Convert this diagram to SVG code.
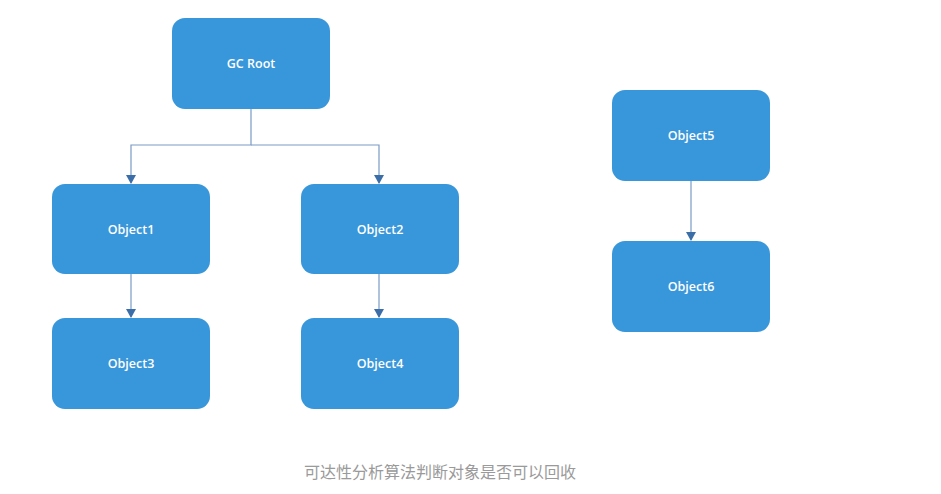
<svg xmlns="http://www.w3.org/2000/svg" width="941" height="494" viewBox="0 0 941 494">
<style>
.box{fill:#3896da;}
.lbl{font-family:"Open Sans","Noto Sans",sans-serif;font-size:12.5px;font-weight:600;fill:#ffffff;text-anchor:middle;dominant-baseline:central;}
.conn{stroke:#7b9bc4;stroke-width:1.2;fill:none;}
.cap{font-family:"Noto Sans CJK SC","Noto Sans",sans-serif;font-size:16px;fill:#9a9a9a;text-anchor:middle;}
</style>
<rect width="941" height="494" fill="#ffffff"/>
<g id="connectors">
<path class="conn" d="M251,109 V145 H131 V183"/>
<path d="M126,175 L136,175 L131,184 Z" fill="#3b6ea8"/>
<path class="conn" d="M251,145 H379 V183"/>
<path d="M374,175 L384,175 L379,184 Z" fill="#3b6ea8"/>
<path class="conn" d="M131,274 V317"/>
<path d="M126,309 L136,309 L131,318 Z" fill="#3b6ea8"/>
<path class="conn" d="M379,274 V317"/>
<path d="M374,309 L384,309 L379,318 Z" fill="#3b6ea8"/>
<path class="conn" d="M691,181 V240"/>
<path d="M686,232 L696,232 L691,241 Z" fill="#3b6ea8"/>
</g>
<g id="gcroot"><rect class="box" x="172" y="18" width="158" height="91" rx="13"/><text class="lbl" x="251" y="63.5">GC Root</text></g>
<g id="object1"><rect class="box" x="52" y="184" width="158" height="90" rx="13"/><text class="lbl" x="131" y="229">Object1</text></g>
<g id="object2"><rect class="box" x="301" y="184" width="158" height="90" rx="13"/><text class="lbl" x="380" y="229">Object2</text></g>
<g id="object3"><rect class="box" x="52" y="318" width="158" height="91" rx="13"/><text class="lbl" x="131" y="363.5">Object3</text></g>
<g id="object4"><rect class="box" x="301" y="318" width="158" height="91" rx="13"/><text class="lbl" x="380" y="363.5">Object4</text></g>
<g id="object5"><rect class="box" x="612" y="90" width="158" height="91" rx="13"/><text class="lbl" x="691" y="135.5">Object5</text></g>
<g id="object6"><rect class="box" x="612" y="241" width="158" height="91" rx="13"/><text class="lbl" x="691" y="286.5">Object6</text></g>
<text class="cap" x="440" y="478">可达性分析算法判断对象是否可以回收</text>
</svg>
